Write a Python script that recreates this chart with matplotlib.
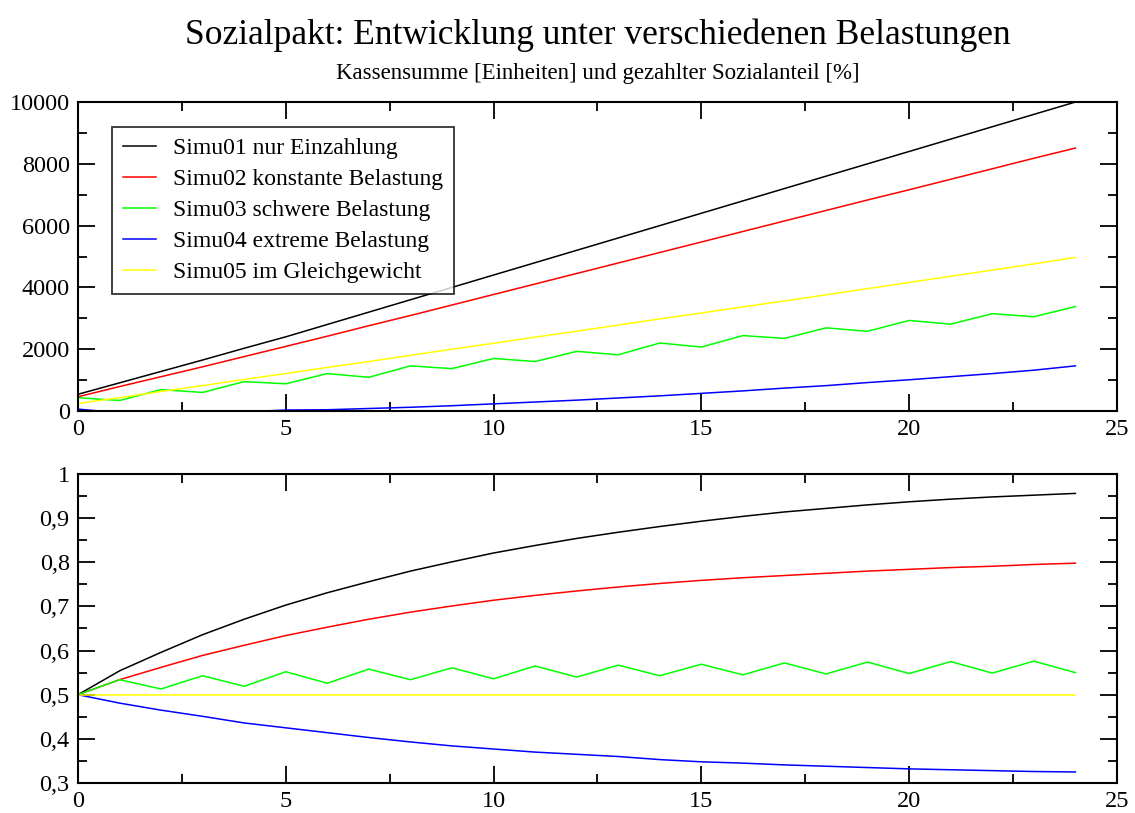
import matplotlib

matplotlib.use("Agg")
import matplotlib.pyplot as plt
from matplotlib.ticker import FuncFormatter, MultipleLocator

plt.rcParams["font.family"] = ["Liberation Serif", "DejaVu Serif"]

years = list(range(25))

# Kassensumme [Einheiten]
kasse_simu01 = [540, 910, 1280, 1650, 2030, 2400, 2800, 3200, 3600, 4000, 4400, 4800, 5200,
                5600, 6000, 6400, 6800, 7200, 7600, 8000, 8400, 8800, 9200, 9600, 10000]
kasse_simu02 = [460, 790, 1110, 1430, 1760, 2090, 2420, 2760, 3090, 3430, 3770, 4110, 4450,
                4790, 5130, 5470, 5810, 6150, 6490, 6830, 7160, 7500, 7840, 8180, 8510]
kasse_simu03 = [430, 340, 690, 600, 950, 880, 1210, 1090, 1460, 1370, 1700, 1600, 1930,
                1820, 2200, 2070, 2440, 2350, 2690, 2580, 2930, 2810, 3150, 3050, 3380]
kasse_simu04 = [60, -60, -130, -120, -30, 30, 40, 80, 120, 170, 230, 290, 350,
                420, 490, 570, 650, 740, 820, 920, 1010, 1110, 1210, 1320, 1460]
kasse_simu05 = [240, 430, 630, 820, 1020, 1210, 1410, 1600, 1800, 2000, 2190, 2390, 2580,
                2780, 2980, 3170, 3370, 3560, 3760, 3960, 4160, 4360, 4560, 4760, 4970]

# gezahlter Sozialanteil
anteil_simu01 = [0.500, 0.554, 0.596, 0.636, 0.671, 0.703, 0.731, 0.756, 0.780, 0.801, 0.821,
                 0.838, 0.854, 0.868, 0.881, 0.893, 0.904, 0.914, 0.922, 0.930, 0.937,
                 0.943, 0.948, 0.952, 0.956]
anteil_simu02 = [0.500, 0.534, 0.562, 0.589, 0.612, 0.634, 0.653, 0.671, 0.687, 0.701, 0.714,
                 0.725, 0.735, 0.744, 0.752, 0.759, 0.765, 0.770, 0.775, 0.780, 0.784,
                 0.788, 0.791, 0.795, 0.798]
anteil_simu03 = [0.500, 0.534, 0.513, 0.543, 0.519, 0.552, 0.526, 0.558, 0.534, 0.561, 0.536,
                 0.565, 0.540, 0.567, 0.543, 0.569, 0.545, 0.572, 0.547, 0.574, 0.548,
                 0.575, 0.549, 0.576, 0.550]
anteil_simu04 = [0.500, 0.481, 0.465, 0.451, 0.436, 0.425, 0.414, 0.403, 0.393, 0.384, 0.377,
                 0.370, 0.365, 0.360, 0.353, 0.348, 0.345, 0.341, 0.338, 0.335, 0.332,
                 0.330, 0.328, 0.326, 0.325]
anteil_simu05 = [0.5] * 25

labels = ["Simu01 nur Einzahlung", "Simu02 konstante Belastung", "Simu03 schwere Belastung",
          "Simu04 extreme Belastung", "Simu05 im Gleichgewicht"]
colors = ["#000000", "#ff0000", "#00ff00", "#0000ff", "#ffff00"]


def style_axes(ax):
    for spine in ax.spines.values():
        spine.set_linewidth(1.5)
    ax.tick_params(which="both", direction="in", top=True, right=True, width=1.3,
                   labelsize=17.5, pad=6)
    ax.tick_params(which="major", length=12)
    ax.tick_params(which="minor", length=6.5)
    ax.set_xlim(0, 25)
    ax.xaxis.set_major_locator(MultipleLocator(5))
    ax.xaxis.set_minor_locator(MultipleLocator(2.5))


fig = plt.figure(figsize=(11.35, 8.13), dpi=100)
ax_top = fig.add_axes([0.0687, 0.4945, 0.9154, 0.3800])
ax_bot = fig.add_axes([0.0687, 0.0369, 0.9154, 0.3801])

kasse = [kasse_simu01, kasse_simu02, kasse_simu03, kasse_simu04, kasse_simu05]
anteil = [anteil_simu01, anteil_simu02, anteil_simu03, anteil_simu04, anteil_simu05]

for values, color, label in zip(kasse, colors, labels):
    ax_top.plot(years, values, color=color, linewidth=1.1, label=label)
for values, color in zip(anteil, colors):
    ax_bot.plot(years, values, color=color, linewidth=1.1)

style_axes(ax_top)
ax_top.set_ylim(0, 10000)
ax_top.yaxis.set_major_locator(MultipleLocator(2000))
ax_top.yaxis.set_minor_locator(MultipleLocator(1000))

style_axes(ax_bot)
ax_bot.set_ylim(0.3, 1.0)
ax_bot.yaxis.set_major_locator(MultipleLocator(0.1))
ax_bot.yaxis.set_minor_locator(MultipleLocator(0.05))
ax_bot.yaxis.set_major_formatter(FuncFormatter(lambda v, pos: f"{v:.10g}".replace(".", ",")))

leg = ax_top.legend(loc="upper left", bbox_to_anchor=(0.0327, 0.919), fontsize=17,
                    frameon=True, fancybox=False, borderaxespad=0, handlelength=1.4,
                    handletextpad=0.75, labelspacing=0.4, borderpad=0.45)
leg.get_frame().set_edgecolor("black")
leg.get_frame().set_linewidth(1.3)

# centred over the plot area, like the original
fig.text(0.527, 0.957, "Sozialpakt: Entwicklung unter verschiedenen Belastungen",
         ha="center", va="center", fontsize=25.5)
fig.text(0.527, 0.909, "Kassensumme [Einheiten] und gezahlter Sozialanteil [%]",
         ha="center", va="center", fontsize=16.5)

fig.savefig("out.png", dpi=100)
plt.close(fig)
